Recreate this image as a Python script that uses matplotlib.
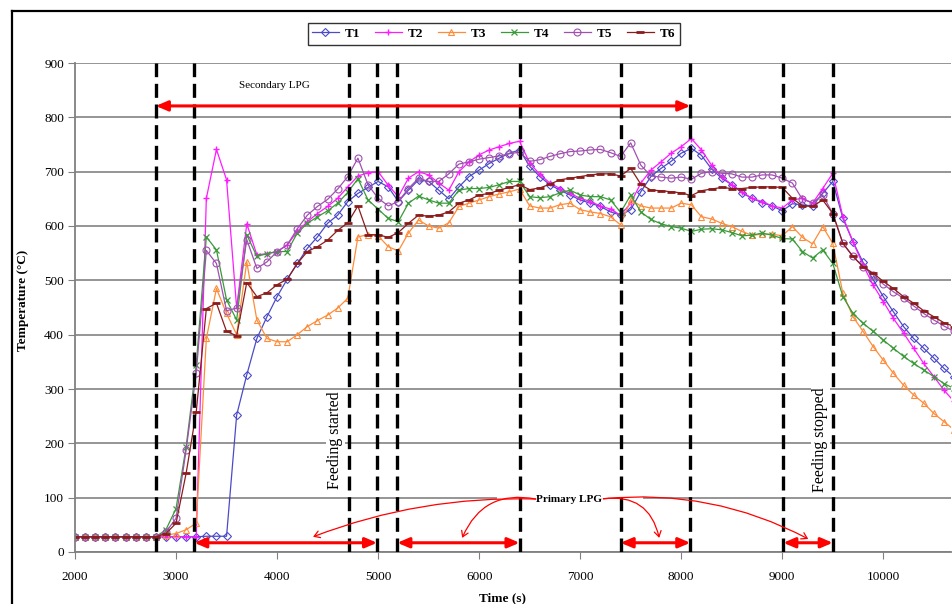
import matplotlib
matplotlib.use("Agg")
import matplotlib.pyplot as plt
from matplotlib.lines import Line2D
from matplotlib.patches import Rectangle

plt.rcParams['font.family'] = ['Liberation Serif', 'DejaVu Serif']

# Sampling times (s)
time = list(range(2000, 10800, 100))

# Measured temperatures (deg C)
t1 = [28, 28, 28, 28, 28, 28, 28, 28, 28, 28,
      28, 28, 28, 29, 29, 29, 252, 326, 393, 433,
      470, 502, 531, 559, 580, 605, 620, 645, 660, 671,
      682, 672, 645, 666, 685, 682, 666, 650, 672, 691,
      703, 715, 725, 734, 740, 710, 691, 676, 666, 657,
      648, 642, 636, 626, 620, 630, 663, 691, 706, 719,
      734, 743, 730, 705, 688, 676, 661, 651, 643, 637,
      628, 641, 639, 637, 660, 682, 614, 571, 533, 501,
      470, 442, 415, 393, 375, 357, 338, 322]
t2 = [28, 28, 28, 28, 28, 28, 28, 28, 28, 28,
      28, 28, 28, 651, 741, 685, 449, 604, 547, 549,
      553, 565, 590, 608, 623, 636, 651, 672, 692, 698,
      700, 675, 654, 688, 700, 694, 679, 666, 700, 718,
      731, 740, 746, 752, 756, 716, 695, 679, 669, 660,
      651, 645, 637, 631, 620, 642, 679, 703, 718, 734,
      746, 761, 740, 712, 691, 676, 663, 651, 645, 637,
      633, 648, 651, 642, 669, 697, 617, 571, 528, 491,
      461, 430, 403, 375, 347, 323, 298, 277]
t3 = [28, 28, 28, 28, 28, 28, 28, 28, 28, 31,
      34, 41, 53, 393, 485, 439, 400, 534, 427, 393,
      387, 387, 400, 415, 426, 436, 449, 467, 580, 584,
      582, 562, 554, 587, 611, 600, 596, 606, 636, 642,
      648, 654, 659, 663, 668, 637, 633, 633, 639, 642,
      630, 626, 623, 617, 602, 648, 637, 633, 633, 633,
      642, 639, 617, 613, 605, 599, 590, 583, 585, 585,
      582, 599, 579, 567, 599, 568, 476, 433, 406, 378,
      353, 329, 307, 289, 274, 255, 240, 225]
t4 = [28, 28, 28, 28, 28, 28, 28, 28, 28, 41,
      80, 194, 345, 580, 556, 464, 427, 584, 544, 549,
      553, 553, 587, 605, 617, 628, 642, 662, 687, 648,
      631, 614, 608, 642, 655, 648, 642, 642, 666, 669,
      669, 671, 676, 682, 682, 654, 652, 654, 661, 666,
      657, 654, 654, 648, 625, 657, 626, 612, 604, 599,
      596, 590, 594, 595, 593, 588, 582, 583, 587, 583,
      577, 576, 553, 541, 556, 531, 470, 439, 421, 406,
      390, 375, 360, 347, 335, 323, 310, 301]
t5 = [28, 28, 28, 28, 28, 28, 28, 28, 28, 37,
      62, 188, 329, 555, 531, 444, 449, 575, 522, 534,
      553, 565, 595, 620, 636, 649, 668, 691, 725, 676,
      651, 637, 645, 669, 688, 682, 682, 696, 714, 718,
      723, 726, 729, 733, 736, 719, 722, 728, 733, 737,
      738, 740, 741, 735, 728, 753, 712, 692, 690, 688,
      690, 686, 697, 700, 697, 696, 690, 690, 694, 694,
      688, 679, 649, 643, 657, 623, 568, 544, 525, 510,
      493, 479, 467, 453, 439, 427, 416, 406]
t6 = [28, 28, 28, 28, 28, 28, 28, 28, 28, 34,
      53, 145, 258, 448, 458, 406, 398, 496, 470, 477,
      492, 502, 531, 553, 562, 574, 592, 606, 637, 584,
      584, 579, 588, 605, 620, 618, 620, 626, 642, 648,
      657, 660, 666, 671, 676, 667, 670, 677, 685, 688,
      691, 694, 696, 696, 692, 706, 677, 666, 665, 663,
      661, 656, 665, 668, 671, 669, 669, 671, 672, 672,
      671, 651, 637, 636, 648, 623, 568, 544, 525, 513,
      498, 485, 470, 458, 444, 433, 422, 415]

series_labels = ['T1', 'T2', 'T3', 'T4', 'T5', 'T6']

# Process events (s)
events = [2800, 3180, 4710, 4990, 5190, 6400, 7400, 8090, 9010, 9500]
secondary_lpg = (2800, 8090)
primary_lpg = [(3180, 4990), (5190, 6400), (7400, 8090), (9010, 9500)]

fig = plt.figure(figsize=(9.53, 6.04), dpi=100)
ax = fig.add_axes([75 / 953, 52 / 604, 876 / 953, 489 / 604])

# outer frame of the chart
fig.add_artist(Line2D([12 / 953, 12 / 953], [0, 1 - 11 / 604], transform=fig.transFigure,
                      color='black', lw=1.6))
fig.add_artist(Line2D([12 / 953, 1], [1 - 11 / 604, 1 - 11 / 604], transform=fig.transFigure,
                      color='black', lw=1.6))

styles = [
    dict(color='#4b4bc8', marker='D', ms=4, mfc='none', mew=0.8),
    dict(color='#ff1aff', marker='+', ms=5, mew=1.0),
    dict(color='#ff8c3a', marker='^', ms=5, mfc='none', mew=0.8),
    dict(color='#3a9a3a', marker='x', ms=4, mew=0.9),
    dict(color='#a050b0', marker='o', ms=5, mfc='none', mew=0.8),
    dict(color='#8b1c1c', marker='_', ms=6, mew=2.0),
]
handles = []
for lab, vals, st in zip(series_labels, [t1, t2, t3, t4, t5, t6], styles):
    h, = ax.plot(time, vals, lw=0.9, label=lab, zorder=2, **st)
    handles.append(h)

for xe in events:
    ax.axvline(xe, color='black', lw=2.4, ls=(0, (4.2, 2.0)), zorder=4)

ax.set_xlim(2000, 10670)
ax.set_ylim(0, 900)
ax.set_xticks(range(2000, 10001, 1000))
ax.set_yticks(range(0, 901, 100))
ax.grid(axis='y', color='#8c8c8c', lw=1.3)
ax.set_axisbelow(True)
for s in ['top', 'right']:
    ax.spines[s].set_visible(False)
for s in ['left', 'bottom']:
    ax.spines[s].set_color('#808080')
    ax.spines[s].set_linewidth(1.3)
ax.tick_params(axis='both', direction='out', length=5, color='#808080', labelsize=9.5)
ax.tick_params(axis='x', pad=9)
ax.tick_params(axis='y', pad=3)

ax.set_ylabel('Temperature (°C)', fontweight='bold', fontsize=9.5)
ax.yaxis.set_label_coords(-0.0525, 0.515)
fig.text(503 / 953, 1 - 598 / 604, 'Time (s)', ha='center', va='center',
         fontweight='bold', fontsize=9.5)

# Secondary LPG period
ax.annotate('', xy=(secondary_lpg[1], 821), xytext=(secondary_lpg[0], 821),
            arrowprops=dict(arrowstyle='<|-|>,head_length=0.7,head_width=0.3',
                            color='#ff0000', lw=2.2, shrinkA=0, shrinkB=0), zorder=5)
ax.text(3970, 858, 'Secondary LPG', ha='center', va='center', fontsize=8)

# Primary LPG periods
for a, b in primary_lpg:
    ax.annotate('', xy=(b, 17), xytext=(a, 17),
                arrowprops=dict(arrowstyle='<|-|>,head_length=0.7,head_width=0.3',
                                color='#ff0000', lw=2.2, shrinkA=0, shrinkB=0), zorder=5)
# white label box behind the Primary LPG callout
ax.add_patch(Rectangle((6180, 91), 1440, 14, facecolor='white', edgecolor='none', zorder=1.5))
ax.text(6891, 97.5, 'Primary LPG', ha='center', va='center', fontsize=8,
        fontweight='bold', zorder=5)

curves = [((6560, 97.5), (4356, 28), 0.1),
          ((6560, 97.5), (5832, 26), 0.4),
          ((7230, 98), (7782, 26), -0.45),
          ((7230, 98), (9257, 24), -0.15)]
for start, end, rad in curves:
    ax.annotate('', xy=end, xytext=start,
                arrowprops=dict(arrowstyle='->,head_length=0.4,head_width=0.25',
                                color='#ff0000', lw=0.9, shrinkA=0, shrinkB=0,
                                connectionstyle=f'arc3,rad={rad}'), zorder=5)

ax.text(4574, 205, 'Feeding started', rotation=90, ha='center', va='center',
        fontsize=11.5, bbox=dict(fc='white', ec='none', pad=1), zorder=3)
ax.text(9376, 206, 'Feeding stopped', rotation=90, ha='center', va='center',
        fontsize=11.5, bbox=dict(fc='white', ec='none', pad=1), zorder=3)

leg = fig.legend(handles, series_labels, loc='center', bbox_to_anchor=(494 / 953, 1 - 34 / 604),
                 ncol=6, frameon=True, fancybox=False, edgecolor='black',
                 prop=dict(weight='bold', size=9.5), handlelength=2.0,
                 columnspacing=1.1, handletextpad=0.5, borderpad=0.35)
leg.get_frame().set_linewidth(1.0)

fig.savefig('out.png', dpi=100, facecolor='white')
